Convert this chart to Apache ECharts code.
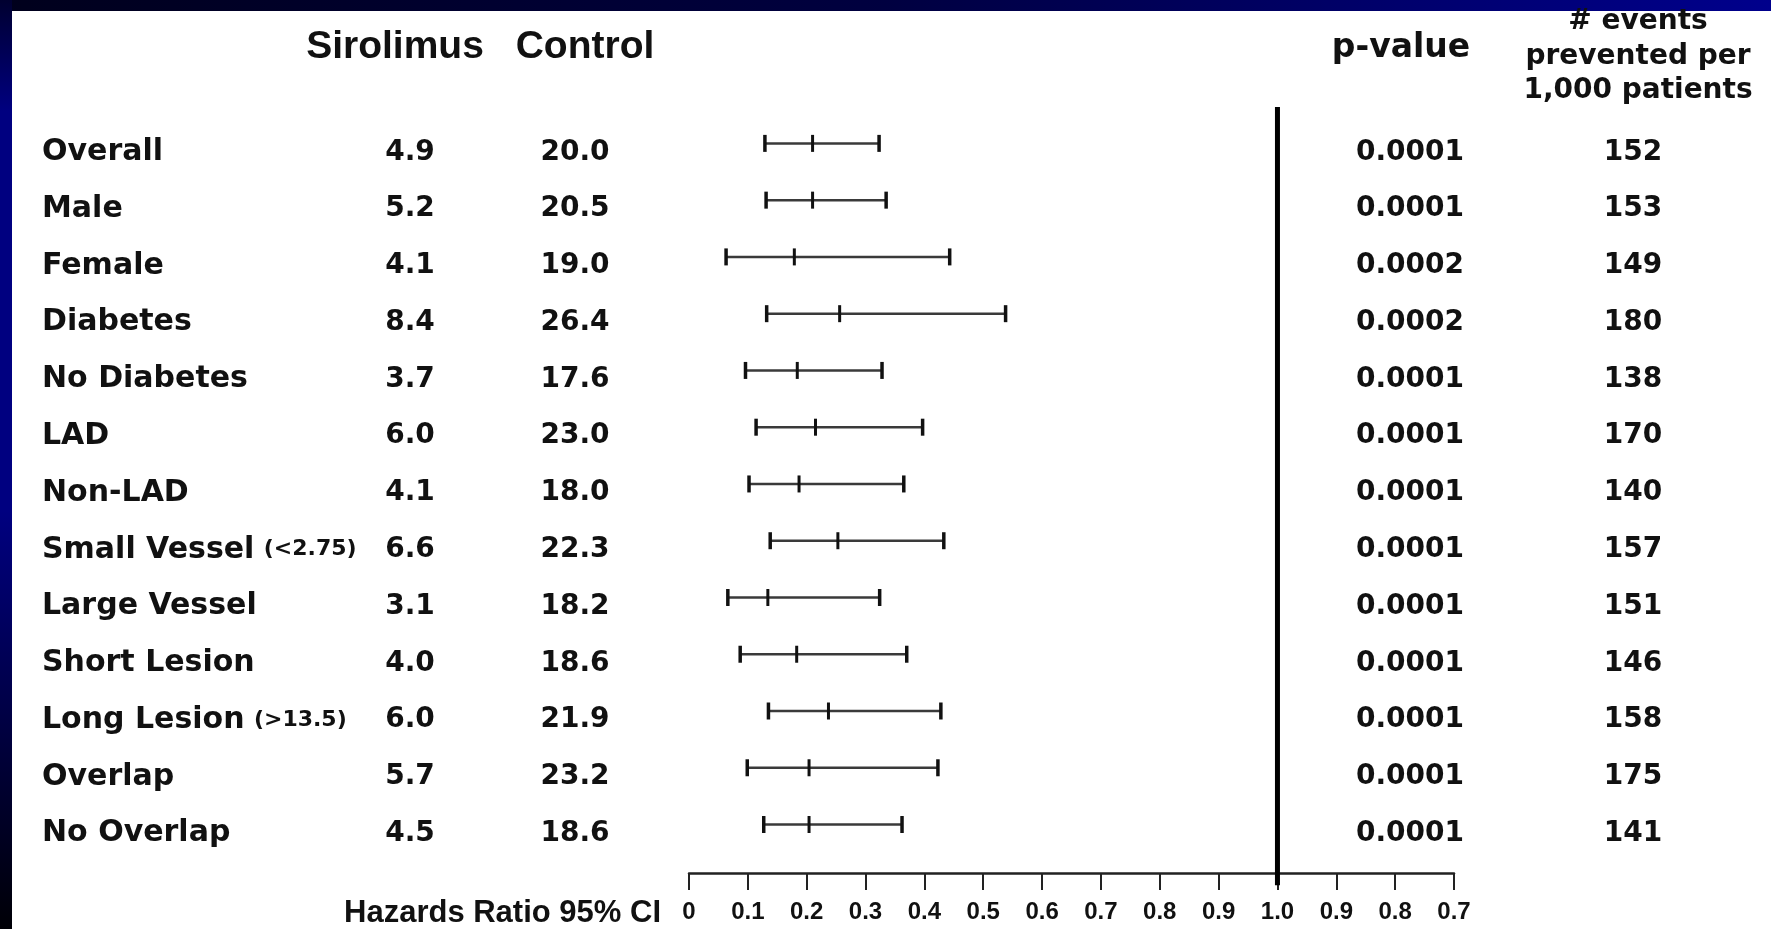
<!DOCTYPE html>
<html><head><meta charset="utf-8">
<script src="https://cdn.jsdelivr.net/npm/echarts@6/dist/echarts.min.js"></script>
<style>html,body{margin:0;padding:0;background:#fff;}#c{width:1771px;height:929px;}</style>
</head><body><div id="c"></div>
<script>
// ---------- data ----------
const categories = ['Overall','Male','Female','Diabetes','No Diabetes','LAD','Non-LAD','Small Vessel','Large Vessel','Short Lesion','Long Lesion','Overlap','No Overlap'];
const categoryNotes = ['','','','','','','','(<2.75)','','','(>13.5)','',''];
const sirolimus = [4.9,5.2,4.1,8.4,3.7,6.0,4.1,6.6,3.1,4.0,6.0,5.7,4.5];
const control = [20.0,20.5,19.0,26.4,17.6,23.0,18.0,22.3,18.2,18.6,21.9,23.2,18.6];
const hrLow  = [0.129,0.131,0.063,0.132,0.096,0.114,0.102,0.138,0.066,0.087,0.135,0.099,0.127];
const hrMid  = [0.210,0.210,0.179,0.256,0.184,0.215,0.187,0.253,0.134,0.183,0.237,0.204,0.204];
const hrHigh = [0.323,0.335,0.443,0.538,0.328,0.397,0.365,0.433,0.324,0.370,0.428,0.423,0.362];
const pValues = ['0.0001','0.0001','0.0002','0.0002','0.0001','0.0001','0.0001','0.0001','0.0001','0.0001','0.0001','0.0001','0.0001'];
const eventsPrevented = [152,153,149,180,138,170,140,157,151,146,158,175,141];
const tickLabels = ['0','0.1','0.2','0.3','0.4','0.5','0.6','0.7','0.8','0.9','1.0','0.9','0.8','0.7'];
const referenceHR = 1.0;

// axis position: hazard ratios below 1 map linearly, 0.1 per tick
const toAxis = hr => hr * 10;

const rowFont = 'DejaVu Sans';
const ink = '#111';
const yMin = -0.641, yMax = 12.854;

const chart = echarts.init(document.getElementById('c'), null, {renderer: 'canvas'});

const ciData = categories.map((c, i) => [i, toAxis(hrLow[i]), toAxis(hrMid[i]), toAxis(hrHigh[i])]);
const tableData = categories.map((c, i) => [0, i]);

const option = {
  backgroundColor: '#ffffff',
  animation: false,
  grid: {left: 689, right: 317, top: 107, bottom: 56, containLabel: false},
  xAxis: {
    type: 'value', min: 0, max: tickLabels.length - 1, interval: 1, position: 'bottom',
    axisLine: {show: true, onZero: false, lineStyle: {color: '#222', width: 2.5}},
    axisTick: {show: true, length: 17, lineStyle: {color: '#222', width: 2}},
    splitLine: {show: false},
    axisLabel: {
      margin: 27, color: ink, fontFamily: 'Liberation Sans', fontWeight: 'bold', fontSize: 24,
      showMinLabel: true, showMaxLabel: true,
      formatter: v => tickLabels[Math.round(v)]
    }
  },
  yAxis: {type: 'value', inverse: true, min: yMin, max: yMax, show: false},
  graphic: [
    {type: 'rect', left: 0, top: 0, z: 0, shape: {width: 1771, height: 11},
      style: {fill: new echarts.graphic.LinearGradient(0, 0, 1, 0, [
        {offset: 0, color: '#00001c'}, {offset: 0.5, color: '#000040'}, {offset: 1, color: '#00008c'}])}},
    {type: 'rect', left: 0, top: 0, z: 0, shape: {width: 12, height: 929},
      style: {fill: new echarts.graphic.LinearGradient(0, 0, 0, 1, [
        {offset: 0, color: '#000030'}, {offset: 0.12, color: '#000080'}, {offset: 0.55, color: '#000080'}, {offset: 1, color: '#000006'}])}},
    {type: 'text', x: 395, y: 47, style: {text: 'Sirolimus', fill: ink, font: 'bold 39px Liberation Sans', align: 'center', verticalAlign: 'middle'}},
    {type: 'text', x: 585, y: 47, style: {text: 'Control', fill: ink, font: 'bold 39px Liberation Sans', align: 'center', verticalAlign: 'middle'}},
    {type: 'text', x: 1401, y: 48, style: {text: 'p-value', fill: ink, font: 'bold 33px DejaVu Sans', align: 'center', verticalAlign: 'middle'}},
    {type: 'text', x: 1638, y: 22, style: {text: '# events', fill: ink, font: 'bold 28px DejaVu Sans', align: 'center', verticalAlign: 'middle'}},
    {type: 'text', x: 1638, y: 57, style: {text: 'prevented per', fill: ink, font: 'bold 28px DejaVu Sans', align: 'center', verticalAlign: 'middle'}},
    {type: 'text', x: 1638, y: 91, style: {text: '1,000 patients', fill: ink, font: 'bold 28px DejaVu Sans', align: 'center', verticalAlign: 'middle'}},
    {type: 'text', x: 661, y: 913, style: {text: 'Hazards Ratio 95% CI', fill: ink, font: 'bold 31px Liberation Sans', align: 'right', verticalAlign: 'middle'}}
  ],
  series: [
    {
      type: 'custom', name: 'reference', clip: false, silent: true, z: 3,
      data: [[toAxis(referenceHR), yMin, 13.07]],
      encode: {x: 0, y: [1, 2]},
      renderItem: (params, api) => {
        const a = api.coord([api.value(0), api.value(1)]);
        const b = api.coord([api.value(0), api.value(2)]);
        return {type: 'line', shape: {x1: a[0], y1: a[1], x2: b[0], y2: b[1]}, style: {stroke: '#000', lineWidth: 5}};
      }
    },
    {
      type: 'custom', name: 'HR 95% CI', clip: false, silent: true, z: 4,
      data: ciData,
      encode: {y: 0, x: [1, 2, 3]},
      renderItem: (params, api) => {
        const i = api.value(0);
        const lo = api.coord([api.value(1), i]);
        const mid = api.coord([api.value(2), i]);
        const hi = api.coord([api.value(3), i]);
        const h = 8.5;
        return {type: 'group', children: [
          {type: 'line', shape: {x1: lo[0], y1: lo[1], x2: hi[0], y2: hi[1]}, style: {stroke: '#3a3a3a', lineWidth: 2.5}},
          {type: 'line', shape: {x1: lo[0], y1: lo[1] - h, x2: lo[0], y2: lo[1] + h}, style: {stroke: '#111', lineWidth: 3.5}},
          {type: 'line', shape: {x1: mid[0], y1: mid[1] - h, x2: mid[0], y2: mid[1] + h}, style: {stroke: '#111', lineWidth: 3}},
          {type: 'line', shape: {x1: hi[0], y1: hi[1] - h, x2: hi[0], y2: hi[1] + h}, style: {stroke: '#111', lineWidth: 3.5}}
        ]};
      }
    },
    {
      type: 'custom', name: 'table', clip: false, silent: true, z: 5,
      data: tableData,
      encode: {x: 0, y: 1},
      renderItem: (params, api) => {
        const i = params.dataIndex;
        const y = api.coord([0, api.value(1)])[1] + 9;
        const num = (t, x) => ({type: 'text', x: x, y: y, style: {text: t, fill: ink, font: 'bold 28px ' + rowFont, align: 'center', verticalAlign: 'middle'}});
        const labelText = categoryNotes[i] ? '{m|' + categories[i] + '} {s|' + categoryNotes[i] + '}' : '{m|' + categories[i] + '}';
        return {type: 'group', children: [
          {type: 'text', x: 42, y: y, style: {text: labelText, fill: ink, align: 'left', verticalAlign: 'middle',
            rich: {m: {font: 'bold 30px ' + rowFont, fill: ink, verticalAlign: 'middle'}, s: {font: 'bold 22px ' + rowFont, fill: ink, verticalAlign: 'middle', padding: [0, 0, 0, 6]}}}},
          num(sirolimus[i].toFixed(1), 410),
          num(control[i].toFixed(1), 575),
          num(pValues[i], 1410),
          num(String(eventsPrevented[i]), 1633)
        ]};
      }
    }
  ]
};
chart.setOption(option);
</script>
</body></html>
